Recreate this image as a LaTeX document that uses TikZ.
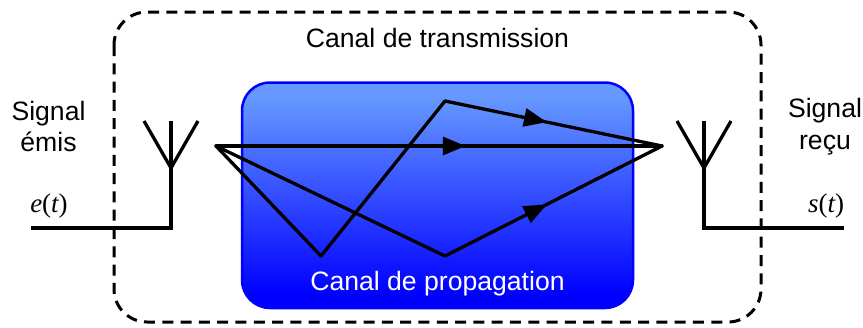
\documentclass[tikz,border=0pt]{standalone}
\usepackage{fontspec}
\setmainfont{Liberation Sans}
\newfontfamily\timesit[Ligatures=TeX]{Liberation Serif}
\usetikzlibrary{arrows.meta,decorations.markings,positioning}
\definecolor{chantop}{RGB}{102,153,255}
\definecolor{chanbot}{RGB}{0,0,255}
\pgfdeclareverticalshading{chanshade}{100bp}{color(0bp)=(chanbot); color(28bp)=(chanbot); color(72bp)=(chantop); color(100bp)=(chantop)}
\tikzset{
  wire/.style={line width=3.3pt,black,line join=miter},
  ray/.style={line width=3.3pt,black,line join=round,line cap=round},
  labeltext/.style={font=\fontsize{26.6}{31.5}\selectfont,align=center,inner sep=0pt,text=black},
  signal/.style={font=\fontsize{27}{27}\selectfont,inner sep=0pt,text=black},
  midtip/.style={postaction={decorate,decoration={markings,mark=at position #1 with {\arrow{Triangle[length=23pt,width=18pt]}}}}},
}
\begin{document}
\begin{tikzpicture}[x=1pt,y=-1pt]
\useasboundingbox (0,0) rectangle (863,327);
% Channel boxes
\draw[line width=2.5pt,draw=chanbot,rounded corners=28pt,shading=chanshade] (242,82.5) rectangle (633,308);
\draw[line width=3pt,dash pattern=on 11pt off 7.3pt,rounded corners=33pt] (114,12) rectangle (761,322);
% Labels
\node[labeltext] (trans) at (437.5,38) {Canal de transmission};
\node[labeltext,text=white] (prop) at (437.5,284) {Canal de propagation};
\node[labeltext] (emis) at (48.5,126.5) {Signal\\émis};
\node[labeltext] (recu) at (825,126.5) {Signal\\reçu};
\node[signal] (et) at (49,206) {\timesit\itshape e\upshape(\itshape t\upshape)};
\node[signal] (st) at (826,206) {\timesit\itshape s\upshape(\itshape t\upshape)};
% Left antenna
\coordinate (lfeed) at (31,228);
\coordinate (lcorner) at (171,228);
\coordinate (ljoin) at (171,168);
\coordinate (ltop) at (171,121);
\coordinate (lla) at (144,121);
\coordinate (lra) at (198,121);
\draw[wire] (lfeed) -- (lcorner) -- (ltop);
\draw[wire] (lla) -- (ljoin) -- (lra);
% Right antenna
\coordinate (rfeed) at (844,228);
\coordinate (rcorner) at (704,228);
\coordinate (rjoin) at (704,168);
\coordinate (rtop) at (704,121);
\coordinate (rla) at (677,121);
\coordinate (rra) at (731,121);
\draw[wire] (rfeed) -- (rcorner) -- (rtop);
\draw[wire] (rla) -- (rjoin) -- (rra);
% Rays
\coordinate (tx) at (216,146);
\coordinate (rx) at (662,146);
\coordinate (b1) at (321,256);
\coordinate (u1) at (445,101);
\coordinate (b2) at (445,256);
\draw[ray,midtip=0.56] (tx) -- (rx);
\draw[ray] (tx) -- (b1) -- (u1);
\draw[ray,midtip=0.47] (u1) -- (rx);
\draw[ray] (tx) -- (b2);
\draw[ray,midtip=0.47] (b2) -- (rx);
\end{tikzpicture}
\end{document}
